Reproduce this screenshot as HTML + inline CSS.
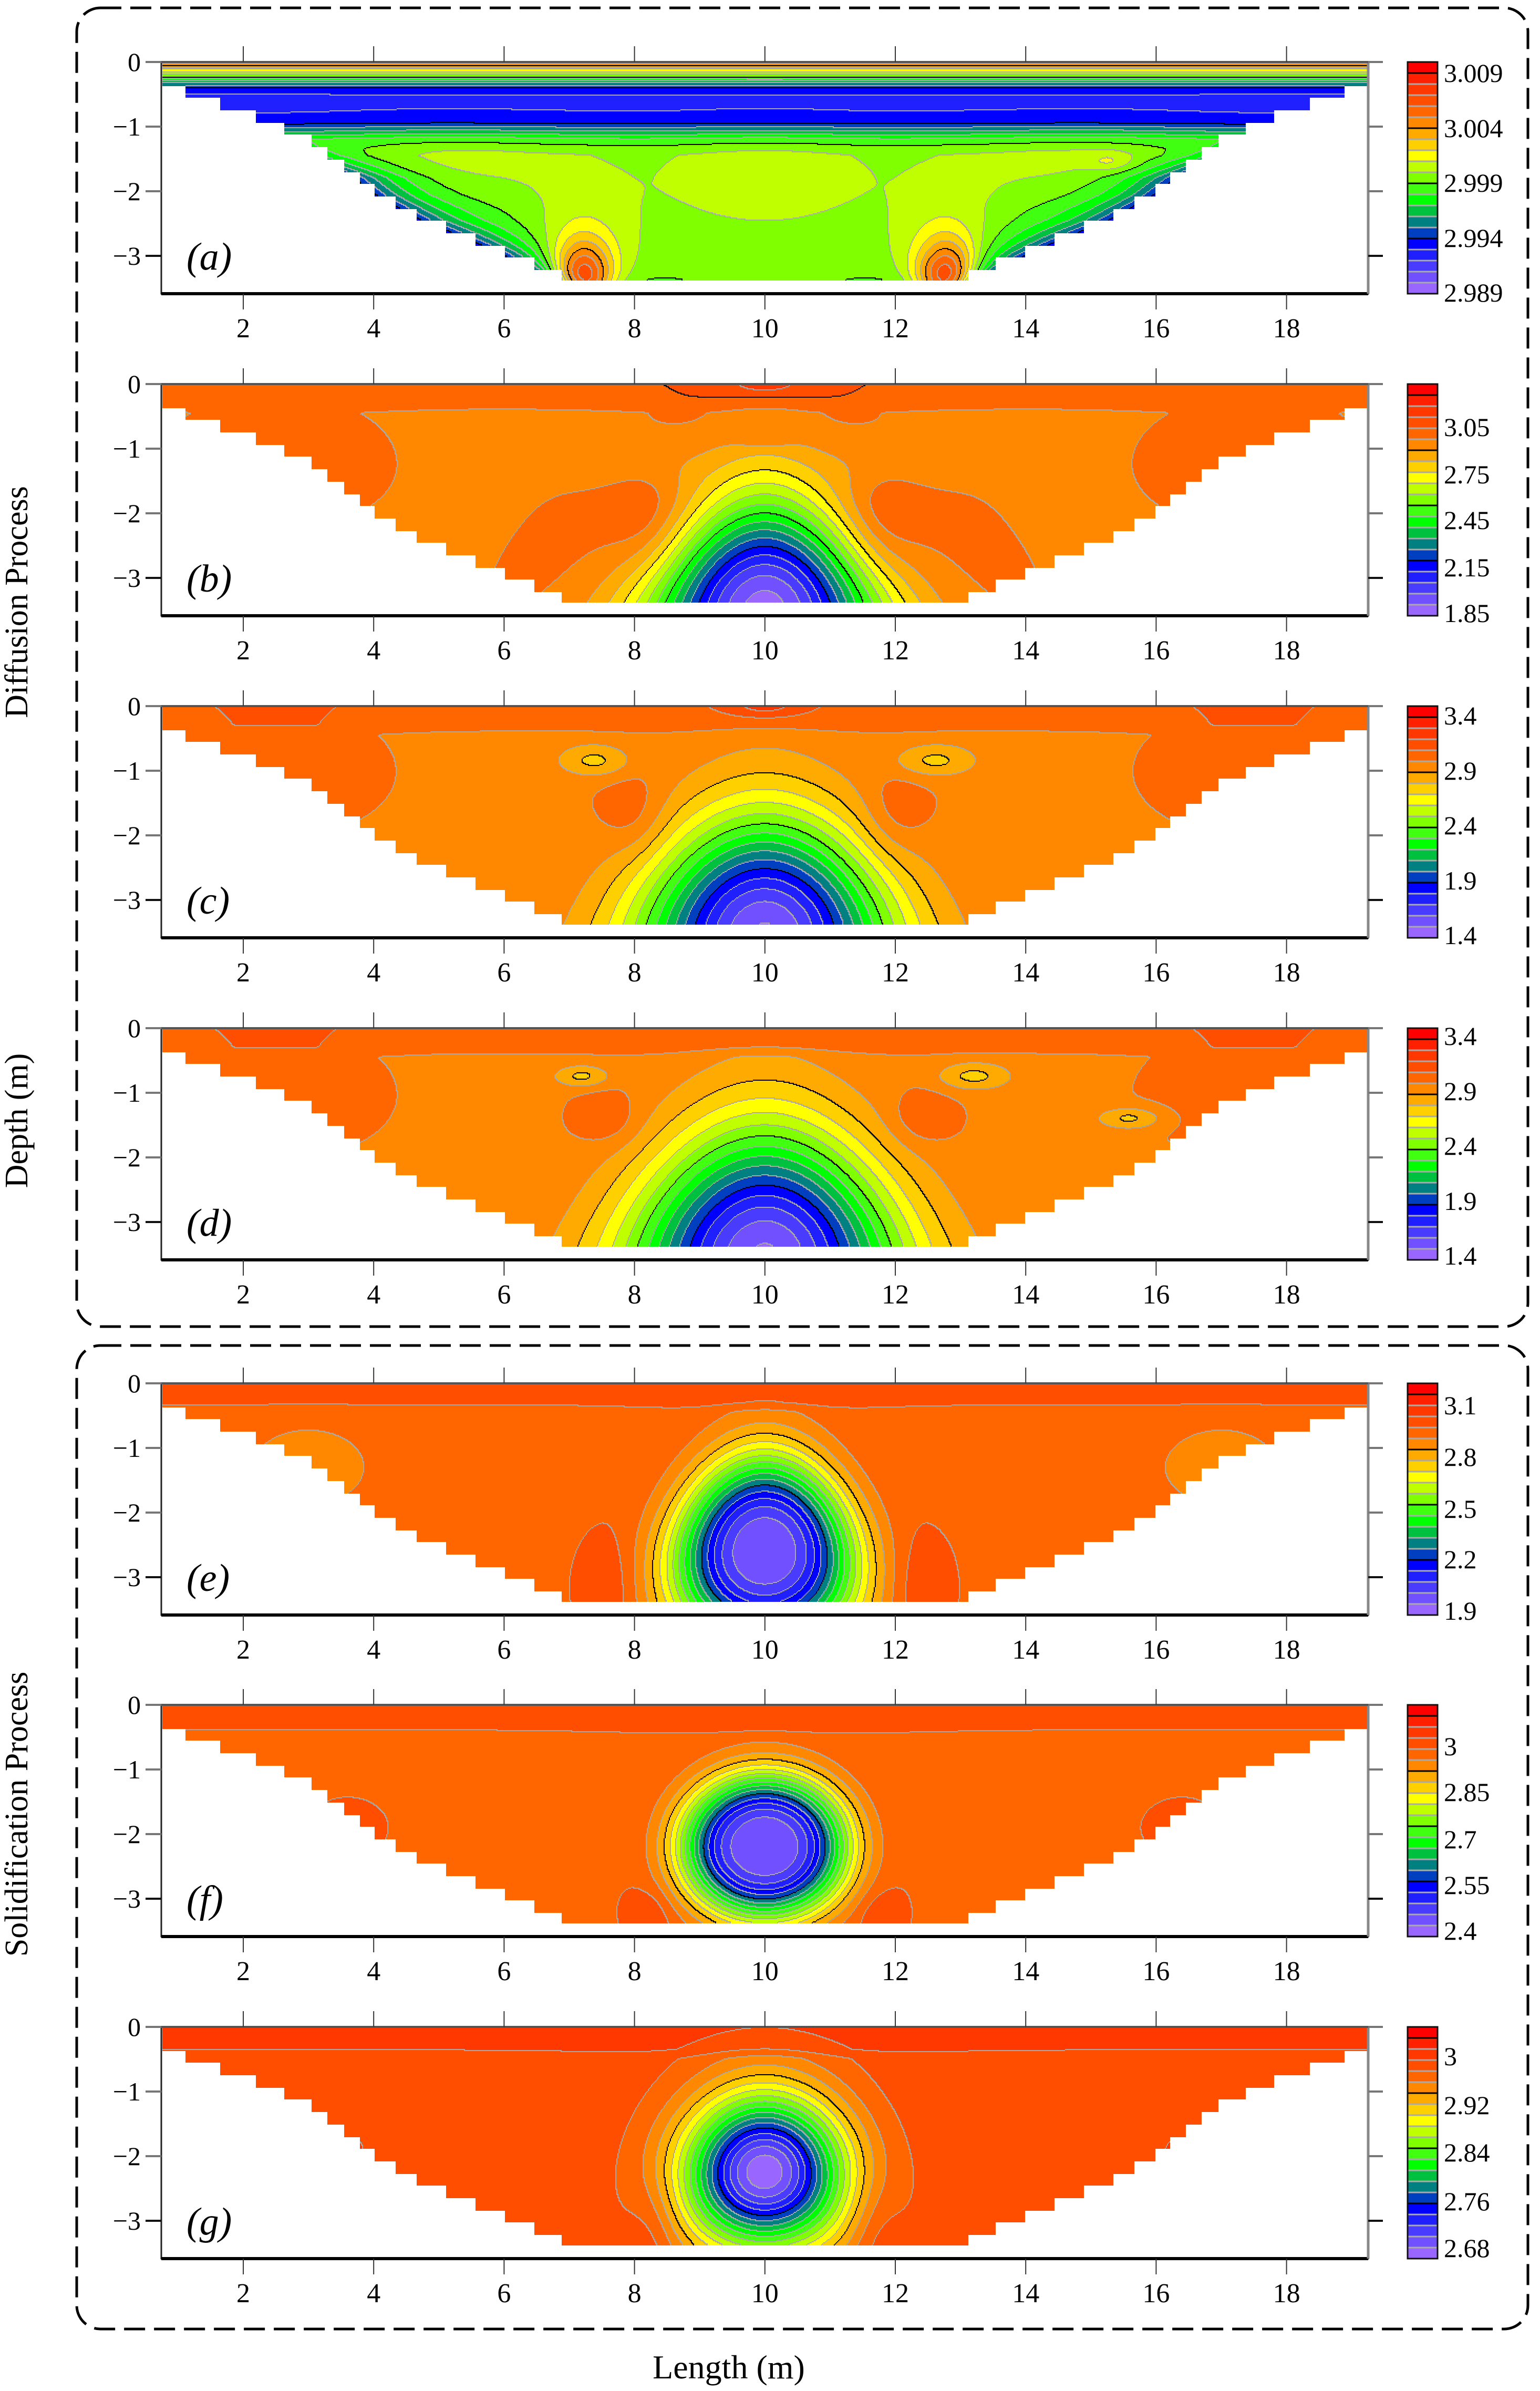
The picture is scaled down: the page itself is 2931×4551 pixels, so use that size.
<!DOCTYPE html>
<html><head><meta charset="utf-8">
<style>
html,body{margin:0;padding:0;background:#fff;}
#root{position:relative;width:2931px;height:4551px;overflow:hidden;background:#fff;font-family:"Liberation Serif",serif;}
canvas{position:absolute;image-rendering:pixelated;}
svg{position:absolute;left:0;top:0;}
</style></head>
<body>
<div id="root">
<svg id="ov" width="2931" height="4551" font-family="Liberation Serif, serif"></svg>
</div>
<script>
// ---------- data ----------
const panelIds = ['a','b','c','d','e','f','g'];
const panelTops = [118, 731, 1344, 1957, 2633, 3245, 3858];
const xTicks = [2,4,6,8,10,12,14,16,18];
const yTicks = [0,-1,-2,-3];
const cbLabelsA = ['3.009','3.004','2.999','2.994','2.989'];
const cbLabelsB = ['3.05','2.75','2.45','2.15','1.85'];
const cbLabelsC = ['3.4','2.9','2.4','1.9','1.4'];
const cbLabelsD = ['3.4','2.9','2.4','1.9','1.4'];
const cbLabelsE = ['3.1','2.8','2.5','2.2','1.9'];
const cbLabelsF = ['3','2.85','2.7','2.55','2.4'];
const cbLabelsG = ['3','2.92','2.84','2.76','2.68'];
const cbLabelOffsets = [[20,125,229,334,438],[81,171,258,348,435],[17,122,226,331,435],[14,119,223,328,432],[41,139,238,334,432],[78,165,255,342,429],[55,148,238,331,420]];
const bandColors = ['#9966ff','#7050ff','#4a3cff','#2020ff','#0000ff','#0040c0','#008080','#00c040','#00ff00','#40ff10','#80ff00','#c0ff00','#ffff00','#ffd000','#ffaa00','#ff8800','#ff6600','#ff4e00','#ff3800','#ff2000','#ff0000'];
const baseVals = [0.50, 0.745, 0.745, 0.745, 0.78, 0.78, 0.82];
// contour boundaries drawn in black, per panel
const blackA = [15,10,5]; const blackB = [17,13,9,5]; const blackC = [14,10,5]; const blackD = [14,10,5];
const blackE = [14,6]; const blackF = [14,6]; const blackG = [14,5];
// layers: depth (m) and additive value
const layerDepthA = [0,0.12,0.22,0.32,0.42,0.6,0.8,0.95,1.05,1.2,1.35,1.45];
const layerValA   = [0.32,0.12,0.0,-0.15,-0.29,-0.33,-0.31,-0.28,-0.20,-0.08,-0.02,0];
const layerDepthB = [0,0.3,0.45,0.6]; const layerValB = [0.05,0.04,0.0,0];
const layerDepthC = [0,0.3,0.45,0.6]; const layerValC = [0.05,0.04,0.0,0];
const layerDepthD = [0,0.3,0.45,0.6]; const layerValD = [0.05,0.04,0.0,0];
const layerDepthE = [0,0.3,0.45]; const layerValE = [0.05,0.04,0];
const layerDepthF = [0,0.35,0.5]; const layerValF = [0.05,0.04,0];
const layerDepthG = [0,0.35,0.5]; const layerValG = [0.05,0.04,0];
// blobs: [centerX, centerDepth, sigmaX, sigmaDepth, amplitude, shapePower, taper]
const blobsA = [[5.2,1.6,1.3,0.45,0.05,1,0],[10,1.8,1.2,0.55,0.05,1,0],[14.8,1.6,1.3,0.45,0.05,1,0],[15.3,1.55,0.2,0.1,0.06,1,0],
  [7.2,3.5,0.32,0.45,0.40,1,0],[12.8,3.5,0.32,0.45,0.40,1,0],[7.2,3.5,0.6,0.9,0.12,1,0],[12.8,3.5,0.6,0.9,0.12,1,0]];
const blobsB = [[10,3.5,1.3,1.25,-0.82,1,0.18],[10,3.1,2.3,1.9,0.10,1,0.12],[8.2,2.1,0.4,0.6,0.05,1,0],[11.8,2.1,0.4,0.6,0.05,1,0],
  [8.3,1.25,0.75,0.35,-0.05,1,0],[11.7,1.25,0.75,0.35,-0.05,1,0],[2.5,1.2,1.4,0.8,0.04,1,0],[17.5,1.2,1.4,0.8,0.04,1,0],[10,0.0,0.4,0.12,0.08,1,0],[10,0.85,0.3,0.1,0.05,1,0]];
const blobsC = [[10,3.5,1.4,1.3,-0.80,1,0.1],[10,3.0,2.1,1.8,0.10,1,0.1],[8.0,1.7,0.35,0.45,0.05,1,0],[12.0,1.7,0.35,0.45,0.05,1,0],
  [7.4,0.85,0.4,0.18,-0.10,1,0],[12.6,0.85,0.45,0.18,-0.10,1,0],[2.5,1.0,1.4,0.8,0.04,1,0],[17.5,1.0,1.4,0.8,0.04,1,0],[10,0.0,0.4,0.12,0.08,1,0]];
const blobsD = [[10,3.5,1.5,1.42,-0.80,1,0.1],[10,2.9,2.2,1.9,0.10,1,0.1],[7.6,1.4,0.35,0.3,0.05,1,0],[12.4,1.4,0.35,0.3,0.05,1,0],
  [7.2,0.75,0.3,0.12,-0.10,1,0],[13.2,0.75,0.4,0.15,-0.10,1,0],[15.6,1.4,0.35,0.12,-0.10,1,0],[2.5,1.0,1.4,0.8,0.04,1,0],[17.5,1.0,1.4,0.8,0.04,1,0]];
const blobsE = [[10,2.6,1.0,1.05,-0.80,1.3,0.1],[10,2.6,1.8,1.5,0.07,1,0.1],[7.6,3.2,0.35,0.6,0.05,1,0],[12.4,3.2,0.35,0.6,0.05,1,0],
  [3.0,1.3,0.6,0.4,-0.05,1,0],[17.0,1.3,0.6,0.4,-0.05,1,0]];
const blobsF = [[10,2.2,0.92,0.8,-0.78,1.5,0],[10,2.3,2.0,1.4,0.05,1,0],[3.6,1.9,0.6,0.45,0.05,1,0],[16.4,1.9,0.6,0.45,0.05,1,0],[8.2,3.3,0.25,0.3,0.05,1,0],[11.8,3.3,0.25,0.3,0.05,1,0]];
const blobsG = [[10,2.25,0.9,0.85,-0.85,1.0,0.05],[10,2.3,2.0,1.6,0.04,1,0],[8.3,3.1,0.3,0.6,0.05,1,0],[11.7,3.1,0.3,0.6,0.05,1,0],[3.6,1.9,0.6,0.45,0.04,1,0],[16.4,1.9,0.6,0.45,0.04,1,0]];
// side (edge) effect: [amplitude, width]
const sideA = [-0.30, 0.8];
const sideNone = [0, 1];

const layerDepths = [layerDepthA,layerDepthB,layerDepthC,layerDepthD,layerDepthE,layerDepthF,layerDepthG];
const layerVals = [layerValA,layerValB,layerValC,layerValD,layerValE,layerValF,layerValG];
const blobSets = [blobsA,blobsB,blobsC,blobsD,blobsE,blobsF,blobsG];
const sideSets = [sideA,sideNone,sideNone,sideNone,sideNone,sideNone,sideNone];
const blackSets = [blackA,blackB,blackC,blackD,blackE,blackF,blackG];
const cbLabelSets = [cbLabelsA,cbLabelsB,cbLabelsC,cbLabelsD,cbLabelsE,cbLabelsF,cbLabelsG];

// ---------- geometry ----------
const L = 307, R = 2604, H = 441;
const PXM = 124.1, X0 = 214.8, PYM = 123;
const xs = v => X0 + PXM * v;
const ys = (top, v) => top - PYM * v;
const edgeD = [0.37,0.56,0.94,1.31,1.70,2.07,2.45,2.83,3.21,3.38];
const edgeX = [0.74,1.11,2.19,3.03,3.55,4.00,4.64,5.54,6.44,6.88];
const NS = 'http://www.w3.org/2000/svg';
const ov = document.getElementById('ov');
function mk(tag, attrs, parent) {
  const e = document.createElementNS(NS, tag);
  for (const k in attrs) e.setAttribute(k, attrs[k]);
  (parent || ov).appendChild(e);
  return e;
}
function edgeAt(d) {
  if (d <= edgeD[0]) return edgeX[0];
  for (let i = 1; i < edgeD.length; i++) {
    if (d <= edgeD[i]) { const f = (d - edgeD[i-1]) / (edgeD[i] - edgeD[i-1]); return edgeX[i-1] + f * (edgeX[i] - edgeX[i-1]); }
  }
  return edgeX[edgeX.length - 1];
}
function halfWidth(d) {
  if (d <= 0.37) return 9.26;
  const k = Math.ceil((d - 0.37) / 0.19);
  const dq = Math.min(3.38, 0.37 + k * 0.19);
  return 10 - edgeAt(dq);
}
function layerAt(ld, lv, d) {
  if (d <= ld[0]) return lv[0];
  for (let i = 1; i < ld.length; i++) {
    if (d <= ld[i]) { const f = (d - ld[i-1]) / (ld[i] - ld[i-1]); return lv[i-1] + f * (lv[i] - lv[i-1]); }
  }
  return lv[lv.length - 1];
}
function rgb(h) { return [parseInt(h.substr(1,2),16), parseInt(h.substr(3,2),16), parseInt(h.substr(5,2),16)]; }
const bandRGB = bandColors.map(rgb);
const NB = bandColors.length;

// ---------- dashed boxes & labels ----------
const box1 = mk('rect', {x:146, y:15, width:2762, height:2510, rx:45, fill:'none', stroke:'#000', 'stroke-width':5, 'stroke-dasharray':'40 17'});


const box2 = mk('rect', {x:146, y:2561, width:2762, height:1872, rx:45, fill:'none', stroke:'#000', 'stroke-width':5, 'stroke-dasharray':'40 17'});


function rotLabel(txt, cy, name) {
  const t = mk('text', {x:0, y:0, transform:'translate(52,' + cy + ') rotate(-90)', 'text-anchor':'middle', 'font-size':62});
  t.textContent = txt;
  
  
}
rotLabel('Diffusion Process', 1146, 'diffusion-process-label');
rotLabel('Depth (m)', 2133, 'y-axis-title');
rotLabel('Solidification Process', 3453, 'solidification-process-label');
const xt = mk('text', {x:1387, y:4527, 'text-anchor':'middle', 'font-size':64});
xt.textContent = 'Length (m)';



// ---------- panels ----------
const root = document.getElementById('root');
panelIds.forEach((pid, pi) => {
  const top = panelTops[pi], bot = top + H;
  const g = mk('g', {});
  
  

  const cw = Math.ceil((R - L) / 2), ch = Math.ceil(H / 2);
  const cv = document.createElement('canvas');
  cv.width = cw; cv.height = ch;
  cv.style.left = L + 'px'; cv.style.top = top + 'px';
  cv.style.width = (cw * 2) + 'px'; cv.style.height = (ch * 2) + 'px';
  
  
  root.insertBefore(cv, ov);
  const band = new Int8Array(cw * ch).fill(-1);
  const base = baseVals[pi], ld = layerDepths[pi], lv = layerVals[pi], blobs = blobSets[pi], side = sideSets[pi];
  const blacks = blackSets[pi];
  for (let j = 0; j < ch; j++) {
    const d = (j * 2 + 1) / PYM;
    if (d > 3.38) continue;
    const hw = halfWidth(d);
    const lay = layerAt(ld, lv, d);
    for (let i = 0; i < cw; i++) {
      const x = (L + i * 2 + 1 - X0) / PXM;
      if (Math.abs(x - 10) > hw || x < 0.76 || x > 19.26) continue;
      let t = base + lay;
      for (let b = 0; b < blobs.length; b++) {
        const bl = blobs[b];
        const sxe = Math.max(0.25, bl[2] * (1 + bl[6] * (d - bl[1])));
        const dx = (x - bl[0]) / sxe, dd = (d - bl[1]) / bl[3];
        const r2 = dx*dx + dd*dd;
        t += bl[4] * (bl[5] === 1 ? Math.exp(-r2/2) : Math.exp(-Math.pow(r2/2, bl[5])));
      }
      if (side[0] !== 0 && d > 1.2) {
        const dist = (10 - edgeAt(d)) - Math.abs(x - 10);
        const s = Math.min(1, (d - 1.2) / 0.6);
        t += side[0] * Math.exp(-Math.max(0, dist) / side[1]) * s;
      }
      let k = Math.floor(t * NB);
      if (k < 0) k = 0; if (k > NB - 1) k = NB - 1;
      band[j * cw + i] = k;
    }
  }
  const ctx = cv.getContext('2d');
  const img = ctx.createImageData(cw, ch);
  for (let j = 0; j < ch; j++) for (let i = 0; i < cw; i++) {
    const idx = j * cw + i, k = band[idx];
    const o = idx * 4;
    if (k < 0) { img.data[o]=255; img.data[o+1]=255; img.data[o+2]=255; img.data[o+3]=0; continue; }
    let c = bandRGB[k];
    const kr = i + 1 < cw ? band[idx + 1] : -1;
    const kd = j + 1 < ch ? band[idx + cw] : -1;
    let line = -1, lo = -1;
    if (kr >= 0 && kr !== k) { line = Math.max(k, kr); lo = Math.min(k, kr); }
    else if (kd >= 0 && kd !== k) { line = Math.max(k, kd); lo = Math.min(k, kd); }
    if (line >= 0) {
      let blk = false;
      for (let q = 0; q < blacks.length; q++) if (blacks[q] > lo && blacks[q] <= line) blk = true;
      c = blk ? [0,0,0] : [168,168,168];
    }
    img.data[o]=c[0]; img.data[o+1]=c[1]; img.data[o+2]=c[2]; img.data[o+3]=255;
  }
  ctx.putImageData(img, 0, 0);

  const fr = mk('rect', {x:L, y:top, width:R-L, height:H, fill:'none', stroke:'#222', 'stroke-width':3}, g);
  
  
  mk('line', {x1:L, y1:bot, x2:R, y2:bot, stroke:'#000', 'stroke-width':6}, g);
  mk('line', {x1:R, y1:top, x2:R, y2:bot, stroke:'#888', 'stroke-width':5}, g);
  mk('line', {x1:L-10, y1:top, x2:R+20, y2:top, stroke:'#555', 'stroke-width':4}, g);

  xTicks.forEach(v => {
    const X = xs(v);
    mk('line', {x1:X, y1:top-30, x2:X, y2:top, stroke:'#333', 'stroke-width':2}, g);
    mk('line', {x1:X, y1:bot, x2:X, y2:bot+30, stroke:'#333', 'stroke-width':2}, g);
    const t = mk('text', {x:X, y:bot+83, 'text-anchor':'middle', 'font-size':52}, g);
    t.textContent = v;
    
    
  });
  yTicks.forEach(v => {
    const Y = ys(top, v);
    const col = v === -3 ? '#111' : '#777';
    mk('line', {x1:L-30, y1:Y, x2:L, y2:Y, stroke:col, 'stroke-width':4}, g);
    mk('line', {x1:R, y1:Y, x2:R+28, y2:Y, stroke:col, 'stroke-width':4}, g);
    const t = mk('text', {x:268, y:Y+17, 'text-anchor':'end', 'font-size':50}, g);
    t.textContent = v === 0 ? '0' : '\u2212' + Math.abs(v);
    
    
  });
  const pl = mk('text', {x:355, y:top+395, 'font-size':74, 'font-style':'italic'}, g);
  pl.textContent = '(' + pid + ')';
  
  

  const cb = mk('g', {}, g);
  
  
  const cbx = 2679, cbw = 57, bh = H / NB;
  for (let k = 0; k < NB; k++) {
    const y0 = bot - (k + 1) * bh;
    mk('rect', {x:cbx, y:y0, width:cbw, height:bh+0.5, fill:bandColors[k]}, cb);
  }
  for (let k = 1; k < NB; k++) {
    const y0 = bot - k * bh;
    mk('line', {x1:cbx, y1:y0, x2:cbx+cbw, y2:y0, stroke: k % 5 === 0 ? '#000' : '#aaa', 'stroke-width':3}, cb);
  }
  mk('rect', {x:cbx, y:top, width:cbw, height:H, fill:'none', stroke:'#111', 'stroke-width':3}, cb);
  const labs = cbLabelSets[pi], offs = cbLabelOffsets[pi];
  labs.forEach((s, li) => {
    const t = mk('text', {x:2748, y:top + offs[li] + 18, 'font-size':50}, cb);
    t.textContent = s;
    
    
  });
});
</script>
</body></html>
